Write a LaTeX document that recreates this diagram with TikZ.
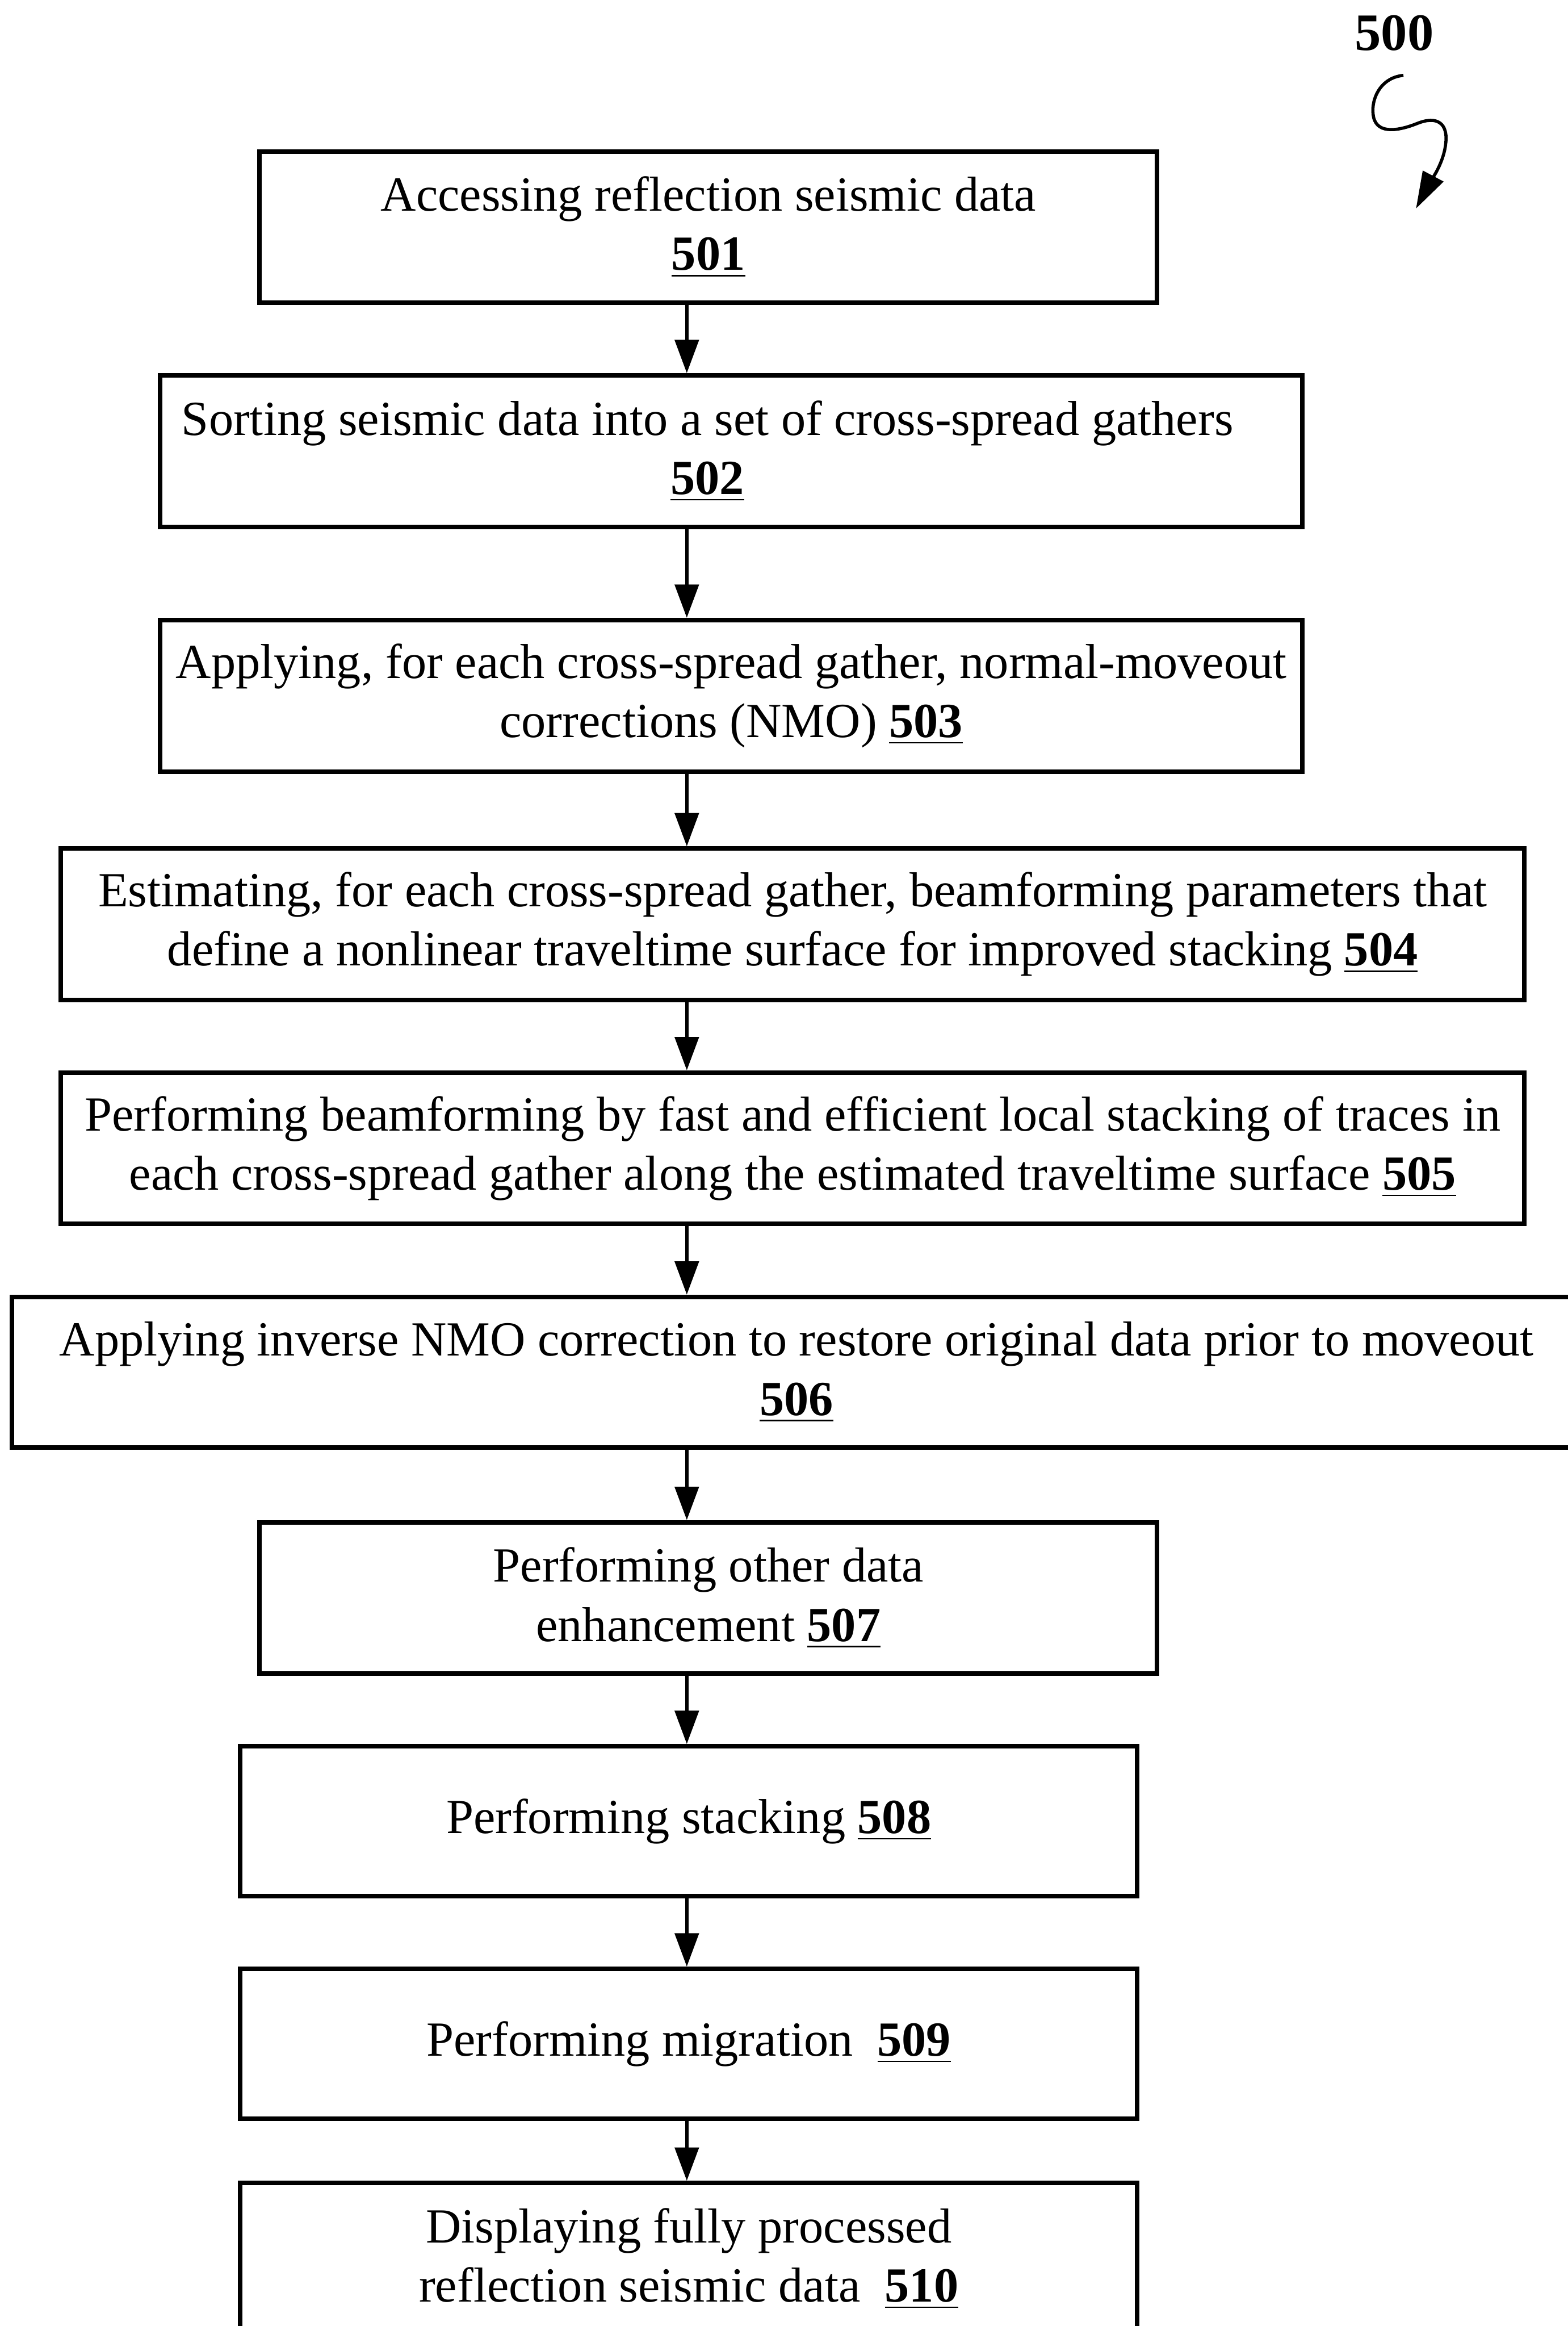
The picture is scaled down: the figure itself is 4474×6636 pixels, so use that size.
\documentclass[tikz,border=0pt]{standalone}
\usepackage{fontspec}
\setmainfont{Liberation Serif}
\usetikzlibrary{arrows.meta}
\begin{document}
\begin{tikzpicture}[x=0.1pt,y=-0.1pt,
  stepbox/.style={draw=black, line width=1.3pt, rectangle, align=center, inner sep=0pt,
    font=\fontsize{14pt}{16.9pt}\selectfont},
  arr/.style={line width=0.9pt, -{Triangle[length=9.5pt,width=6.8pt]}},
  lbl/.style={font=\fontsize{15pt}{18pt}\selectfont\bfseries}]
\useasboundingbox (0,0) rectangle (4474,6636);
\newcommand{\num}[1]{\underline{\textbf{#1}}}
\node[stepbox, minimum width=256.1pt, minimum height=43.2pt] (b501) at (2021.5,648)
  {Accessing reflection seismic data\\\num{501}};
\node[stepbox, minimum width=326pt, minimum height=43.2pt] (b502) at (2087,1287)
  {Sorting seismic data into a set of cross-spread gathers\hspace*{13.6pt}\\\num{502}\hspace*{13.6pt}};
\node[stepbox, minimum width=326pt, minimum height=43.2pt] (b503) at (2087,1985)
  {Applying, for each cross-spread gather, normal-moveout\\corrections (NMO) \num{503}};
\node[stepbox, minimum width=417.6pt, minimum height=43.2pt] (b504) at (2262,2637)
  {Estimating, for each cross-spread gather, beamforming parameters that\\define a nonlinear traveltime surface for improved stacking \num{504}};
\node[stepbox, minimum width=417.6pt, minimum height=43.2pt] (b505) at (2262,3276)
  {Performing beamforming by fast and efficient local stacking of traces in\\each cross-spread gather along the estimated traveltime surface \num{505}};
\node[stepbox, minimum width=447.8pt, minimum height=43pt] (b506) at (2273,3915)
  {Applying inverse NMO correction to restore original data prior to moveout\\\num{506}};
\node[stepbox, minimum width=256.1pt, minimum height=43.2pt] (b507) at (2021.5,4559)
  {Performing other data\\enhancement \num{507}};
\node[stepbox, minimum width=255.9pt, minimum height=42.8pt] (b508) at (1965.5,5196)
  {Performing stacking \num{508}};
\node[stepbox, minimum width=255.9pt, minimum height=42.8pt] (b509) at (1965.5,5831)
  {Performing migration\ \ \num{509}};
\node[stepbox, minimum width=255.9pt, minimum height=43.2pt] (b510) at (1965.5,6444)
  {Displaying fully processed\\reflection seismic data\ \ \num{510}};
\coordinate (ax) at (1960,0);
\draw[arr] (b501.south -| ax) -- (b502.north -| ax);
\draw[arr] (b502.south -| ax) -- (b503.north -| ax);
\draw[arr] (b503.south -| ax) -- (b504.north -| ax);
\draw[arr] (b504.south -| ax) -- (b505.north -| ax);
\draw[arr] (b505.south -| ax) -- (b506.north -| ax);
\draw[arr] (b506.south -| ax) -- (b507.north -| ax);
\draw[arr] (b507.south -| ax) -- (b508.north -| ax);
\draw[arr] (b508.south -| ax) -- (b509.north -| ax);
\draw[arr] (b509.south -| ax) -- (b510.north -| ax);
\node[lbl] (l500) at (3979,95) {500};
\coordinate (sqs) at (4005,215);
\coordinate (sqe) at (4041,595);
\draw[line width=0.9pt, -{Triangle[length=10.5pt,width=6.5pt]}] (sqs)
  .. controls (3935,222) and (3910,290) .. (3920,335)
  .. controls (3932,385) and (3995,372) .. (4045,352)
  .. controls (4100,330) and (4135,350) .. (4125,415)
  .. controls (4118,470) and (4078,525) .. (sqe);
\end{tikzpicture}
\end{document}
